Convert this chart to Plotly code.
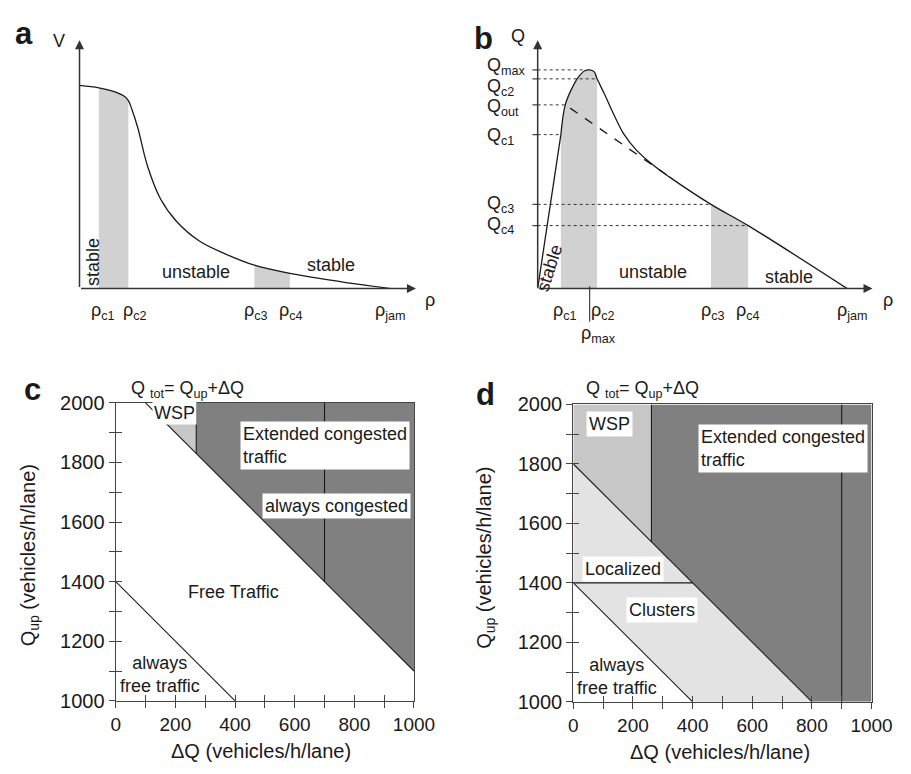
import plotly.graph_objects as go

FONT = "Liberation Sans, Arial, Helvetica, sans-serif"
INK = "#1a1a1a"
AXC = "#444444"
SHADE = "#d0d1d0"
DARK = "#808080"
WSPC = "#c6c7c6"
LIGHT = "#e3e3e3"

# ---------------- Panel a : V(rho) ----------------
a_rho = [0.0, 0.062, 0.114, 0.146, 0.157, 0.167, 0.187, 0.219, 0.26, 0.312, 0.385, 0.468, 0.562, 0.676, 0.801, 0.905, 1.0]
a_v = [1.0, 0.988, 0.968, 0.944, 0.925, 0.888, 0.793, 0.601, 0.442, 0.33, 0.234, 0.171, 0.115, 0.075, 0.043, 0.019, 0.0]
a_crit_labels = ["ρ<sub>c1</sub>", "ρ<sub>c2</sub>", "ρ<sub>c3</sub>", "ρ<sub>c4</sub>", "ρ<sub>jam</sub>"]
a_crit_vals = [0.062, 0.157, 0.562, 0.676, 1.0]

# ---------------- Panel b : Q(rho) ----------------
b_rho = [0.0, 0.075, 0.089, 0.11, 0.131, 0.152, 0.168, 0.183, 0.192, 0.215, 0.246, 0.278, 0.319, 0.372, 0.424, 0.56, 0.68, 1.0]
b_q = [0.0, 0.704, 0.84, 0.914, 0.966, 0.996, 1.0, 0.991, 0.959, 0.892, 0.796, 0.707, 0.633, 0.566, 0.512, 0.385, 0.288, 0.0]
b_dash_rho = [0.105, 0.44]
b_dash_q = [0.825, 0.497]
b_crit_labels = ["ρ<sub>c1</sub>", "ρ<sub>c2</sub>", "ρ<sub>c3</sub>", "ρ<sub>c4</sub>", "ρ<sub>jam</sub>"]
b_crit_vals = [0.075, 0.192, 0.56, 0.68, 1.0]
b_rho_max = 0.168
b_q_labels = ["Q<sub>max</sub>", "Q<sub>c2</sub>", "Q<sub>out</sub>", "Q<sub>c1</sub>", "Q<sub>c3</sub>", "Q<sub>c4</sub>"]
b_q_vals = [1.0, 0.959, 0.84, 0.704, 0.385, 0.288]
b_q_reach = [0.155, 0.19, 0.089, 0.075, 0.56, 0.68]

# ---------------- Panel c ----------------
c_free_total = 1400      # always free traffic boundary Q_tot
c_cong_total = 2100      # always congested boundary Q_tot
c_wsp_dq = 270           # WSP / extended congested split (ΔQ)
c_wsp_qup = 1935         # WSP lower Q_up
c_split_dq = 700         # vertical line in congested region

# ---------------- Panel d ----------------
d_free_total = 1400
d_cong_total = 1800
d_wsp_dq = 262
d_loc_qup = 1400         # localized / clusters split
d_split_dq = 900

x_ticks = [0, 200, 400, 600, 800, 1000]
y_ticks = [1000, 1200, 1400, 1600, 1800, 2000]

fig = go.Figure()

def line(xs, ys, xa, ya, color=INK, width=1.1, dash="solid", shape="linear", fill=None, fillcolor=None):
    fig.add_trace(go.Scatter(x=xs, y=ys, xaxis=xa, yaxis=ya, mode="lines",
                             line=dict(color=color, width=width, dash=dash, shape=shape),
                             fill=fill, fillcolor=fillcolor, hoverinfo="skip", showlegend=False))

# ---- Panel a traces
for lo, hi in [(a_crit_vals[0], a_crit_vals[1]), (a_crit_vals[2], a_crit_vals[3])]:
    xs = [r for r in a_rho if lo - 1e-9 <= r <= hi + 1e-9]
    ys = [v for r, v in zip(a_rho, a_v) if lo - 1e-9 <= r <= hi + 1e-9]
    line(xs, ys, "x", "y", width=0, shape="spline", fill="tozeroy", fillcolor=SHADE)
line(a_rho, a_v, "x", "y", width=1.3, shape="spline")

# ---- Panel b traces
for lo, hi in [(b_crit_vals[0], b_crit_vals[1]), (b_crit_vals[2], b_crit_vals[3])]:
    xs = [r for r in b_rho if lo - 1e-9 <= r <= hi + 1e-9]
    ys = [v for r, v in zip(b_rho, b_q) if lo - 1e-9 <= r <= hi + 1e-9]
    line(xs, ys, "x2", "y2", width=0, shape="spline", fill="tozeroy", fillcolor=SHADE)
dx, dy, tx, ty = [], [], [], []
for q, r in zip(b_q_vals, b_q_reach):
    dx += [0, r, None]; dy += [q, q, None]
    tx += [-0.017, 0, None]; ty += [q, q, None]
line(dx, dy, "x2", "y2", color="#333333", width=1, dash="dot")
line(tx, ty, "x2", "y2", color=AXC, width=1.2)
line(b_rho[:2], b_q[:2], "x2", "y2", width=1.3)
line(b_rho[1:], b_q[1:], "x2", "y2", width=1.3, shape="spline")
line(b_dash_rho, b_dash_q, "x2", "y2", width=1.3, dash="dash")

# ---- Panel c traces
line([c_wsp_dq, 1000, 1000, c_wsp_dq, c_wsp_dq],
     [2000, 2000, c_cong_total - 1000, c_cong_total - c_wsp_dq, 2000],
     "x3", "y3", width=0, fill="toself", fillcolor=DARK)
line([c_cong_total - c_wsp_qup, c_wsp_dq, c_wsp_dq, c_cong_total - c_wsp_qup],
     [c_wsp_qup, c_wsp_qup, c_cong_total - c_wsp_dq, c_wsp_qup],
     "x3", "y3", width=0, fill="toself", fillcolor=WSPC)
line([c_cong_total - 2000, 1000], [2000, c_cong_total - 1000], "x3", "y3")
line([c_wsp_dq, c_wsp_dq], [2000, c_cong_total - c_wsp_dq], "x3", "y3")
line([c_split_dq, c_split_dq], [2000, c_cong_total - c_split_dq], "x3", "y3")
line([0, c_free_total - 1000], [c_free_total, 1000], "x3", "y3")

# ---- Panel d traces
line([0, d_cong_total - 1000, d_free_total - 1000, 0, 0],
     [d_cong_total, 1000, 1000, d_free_total, d_cong_total],
     "x4", "y4", width=0, fill="toself", fillcolor=LIGHT)
line([0, d_wsp_dq, d_wsp_dq, 0, 0],
     [2000, 2000, d_cong_total - d_wsp_dq, d_cong_total, 2000],
     "x4", "y4", width=0, fill="toself", fillcolor=WSPC)
line([d_wsp_dq, 1000, 1000, d_cong_total - 1000, d_wsp_dq, d_wsp_dq],
     [2000, 2000, 1000, 1000, d_cong_total - d_wsp_dq, 2000],
     "x4", "y4", width=0, fill="toself", fillcolor=DARK)
line([0, d_cong_total - 1000], [d_cong_total, 1000], "x4", "y4")
line([0, d_free_total - 1000], [d_free_total, 1000], "x4", "y4")
line([0, d_cong_total - d_loc_qup], [d_loc_qup, d_loc_qup], "x4", "y4")
line([d_wsp_dq, d_wsp_dq], [2000, d_cong_total - d_wsp_dq], "x4", "y4")
line([d_split_dq, d_split_dq], [2000, 1000], "x4", "y4")

# dummy traces for overlay tick axes
for xa, ya in [("x5", "y5"), ("x6", "y6")]:
    fig.add_trace(go.Scatter(x=[None], y=[None], xaxis=xa, yaxis=ya, showlegend=False, hoverinfo="skip"))

W, H = 911, 774
def dom_x(p0, p1):
    return [p0 / W, p1 / W]
def dom_y(ptop, pbot):
    return [1 - pbot / H, 1 - ptop / H]

hidden = dict(visible=False, showgrid=False, zeroline=False)

def main_x(dom, anchor):
    return dict(domain=dom, range=[0, 1000], anchor=anchor, tickvals=x_ticks,
                ticks="outside", ticklen=6, tickwidth=1.1, tickcolor=AXC,
                minor=dict(dtick=100, tick0=0, ticks="outside", ticklen=6, tickwidth=1.1, tickcolor=AXC),
                showline=True, linecolor=AXC, linewidth=1.3, mirror=True,
                showgrid=False, zeroline=False, tickfont=dict(size=19, color=INK, family=FONT))

def main_y(dom, anchor):
    return dict(domain=dom, range=[1000, 2000], anchor=anchor, tickvals=y_ticks,
                ticks="outside", ticklen=6, tickwidth=1.1, tickcolor=AXC,
                minor=dict(dtick=100, tick0=1000, ticks="outside", ticklen=6, tickwidth=1.1, tickcolor=AXC),
                showline=True, linecolor=AXC, linewidth=1.3, mirror=True,
                showgrid=False, zeroline=False, tickfont=dict(size=20, color=INK, family=FONT))

def over_x(dom, over, anchor):
    return dict(domain=dom, range=[0, 1000], overlaying=over, anchor=anchor, dtick=100, tick0=0,
                ticks="inside", ticklen=6, tickwidth=1.1, tickcolor=AXC, showticklabels=False,
                showline=False, showgrid=False, zeroline=False)

def over_y(dom, over, anchor):
    return dict(domain=dom, range=[1000, 2000], overlaying=over, anchor=anchor, dtick=100, tick0=1000,
                ticks="inside", ticklen=6, tickwidth=1.1, tickcolor=AXC, showticklabels=False,
                showline=False, showgrid=False, zeroline=False)

xa_dom = dom_x(76.7, 423)
ya_dom = dom_y(30, 285.7)
xb_dom = dom_x(532.4, 893)
xc_dom = dom_x(114, 421)
yc_dom = dom_y(403.3, 710)
xd_dom = dom_x(585, 892)
yd_dom = dom_y(405, 711)

fig.update_layout(
    width=W, height=H, margin=dict(l=0, r=0, t=0, b=0),
    paper_bgcolor="white", plot_bgcolor="rgba(0,0,0,0)",
    font=dict(family=FONT, color=INK, size=18),
    showlegend=False,
    xaxis=dict(domain=xa_dom, range=[0, 1.081], anchor="y", **hidden),
    yaxis=dict(domain=ya_dom, range=[0, 1.223], anchor="x", **hidden),
    xaxis2=dict(domain=xb_dom, range=[-0.05, 1.082], anchor="y2", **hidden),
    yaxis2=dict(domain=ya_dom, range=[0, 1.136], anchor="x2", **hidden),
    xaxis3=main_x(xc_dom, "y3"), yaxis3=main_y(yc_dom, "x3"),
    xaxis4=main_x(xd_dom, "y4"), yaxis4=main_y(yd_dom, "x4"),
    xaxis5=over_x(xc_dom, "x3", "y5"), yaxis5=over_y(yc_dom, "y3", "x5"),
    xaxis6=over_x(xd_dom, "x4", "y6"), yaxis6=over_y(yd_dom, "y4", "x6"),
)

ann = []
def arrow(x0, y0, x1, y1, xr, yr, head=2, width=1.5, color="#333333"):
    ann.append(dict(x=x1, y=y1, ax=x0, ay=y0, xref=xr, yref=yr, axref=xr, ayref=yr,
                    text="", showarrow=True, arrowhead=head, arrowsize=1.2, arrowwidth=width,
                    arrowcolor=color, standoff=0, startstandoff=0))

def txt(t, x, y, xr, yr, size=18, xs=0, ys=0, xanchor="center", yanchor="middle", angle=0,
        bg=None, align="center", bold=False, pad=1):
    d = dict(text=(f"<b>{t}</b>" if bold else t), x=x, y=y, xref=xr, yref=yr, showarrow=False,
             xshift=xs, yshift=ys, xanchor=xanchor, yanchor=yanchor, textangle=angle, align=align,
             font=dict(size=size, color=INK, family=FONT), borderpad=pad)
    if bg:
        d["bgcolor"] = bg
    ann.append(d)

# Panel a axes + labels
arrow(0, 0, 1.081, 0, "x", "y")
arrow(0, 0, 0, 1.223, "x", "y")
a_shift = [4, 7, 2, 1, 0]
for lab, v, s in zip(a_crit_labels, a_crit_vals, a_shift):
    txt(lab, v, 0, "x", "y", xs=s, ys=-23)
txt("ρ", 1.081, 0, "x", "y", xs=14, ys=-11)
txt("V", 0, 1.223, "x", "y", size=18, xs=-21, ys=-1)
txt("stable", 0, 0, "x", "y", xs=13, ys=26, angle=-90)
txt("unstable", 0.375, 0, "x", "y", ys=17)
txt("stable", 0.807, 0, "x", "y", ys=24)
txt("a", 20 / W, 1 - 23 / H, "paper", "paper", size=31, bold=True)

# Panel b axes + labels
arrow(0, 0, 1.082, 0, "x2", "y2")
arrow(0, 0, 0, 1.136, "x2", "y2")
b_shift = [4, 6, 2, 0, 5]
for lab, v, s in zip(b_crit_labels, b_crit_vals, b_shift):
    txt(lab, v, 0, "x2", "y2", xs=s, ys=-23)
arrow(b_rho_max, 0.018, b_rho_max, -0.152, "x2", "y2", head=0, width=1.1)
txt("ρ<sub>max</sub>", b_rho_max, 0, "x2", "y2", xs=9, ys=-46)
q_shift = [3, -9, -3, -2, 0, 0]
for lab, q, s in zip(b_q_labels, b_q_vals, q_shift):
    txt(lab, 0, q, "x2", "y2", xanchor="left", xs=-53, ys=s)
txt("ρ", 1.082, 0, "x2", "y2", xs=15, ys=-11)
txt("Q", 0, 1.136, "x2", "y2", xs=-20, ys=4)
txt("stable", 0.039, 0.092, "x2", "y2", angle=-72)
txt("unstable", 0.372, 0, "x2", "y2", ys=17)
txt("stable", 0.812, 0, "x2", "y2", ys=12)
txt("b", 493 / W, 1 - 28 / H, "paper", "paper", size=31, bold=True)

# Panel c labels
txt("Extended congested<br>traffic", 416, 1940, "x3", "y3", xanchor="left", yanchor="top",
    bg="white", align="left", pad=2)
txt("always congested", 740, 1655, "x3", "y3", bg="white", pad=2)
txt("Free Traffic", 394, 1366, "x3", "y3")
txt("always<br>free traffic", 150, 1089, "x3", "y3")
txt("WSP", 196, 1965, "x3", "y3", bg="white", pad=1)
txt("Q <sub>tot</sub>= Q<sub>up</sub>+ΔQ", 188 / W, 1 - 390 / H, "paper", "paper", size=18)
txt("ΔQ (vehicles/h/lane)", 264 / W, 1 - 762 / H, "paper", "paper", size=20)
txt("Q<sub>up</sub> (vehicles/h/lane)", 25 / W, 1 - 560 / H, "paper", "paper", size=20, angle=-90)
txt("c", 28 / W, 1 - 390 / H, "paper", "paper", size=31, bold=True)

# Panel d labels
txt("WSP", 122, 1936, "x4", "y4", bg="white", pad=2)
txt("Extended congested<br>traffic", 417, 1935, "x4", "y4", xanchor="left", yanchor="top",
    bg="white", align="left", pad=2)
txt("Localized", 166, 1448, "x4", "y4", bg="white", pad=2)
txt("Clusters", 298, 1310, "x4", "y4", bg="white", pad=2)
txt("always<br>free traffic", 147, 1085, "x4", "y4")
txt("Q <sub>tot</sub>= Q<sub>up</sub>+ΔQ", 656 / W, 1 - 390 / H, "paper", "paper", size=18)
txt("ΔQ (vehicles/h/lane)", 736 / W, 1 - 763 / H, "paper", "paper", size=20)
txt("Q<sub>up</sub> (vehicles/h/lane)", 495 / W, 1 - 563 / H, "paper", "paper", size=20, angle=-90)
txt("d", 495 / W, 1 - 395 / H, "paper", "paper", size=31, bold=True)

fig.update_layout(annotations=ann)
fig.write_html("out.html", post_script="document.body.style.margin='0';document.body.style.overflow='hidden';")
